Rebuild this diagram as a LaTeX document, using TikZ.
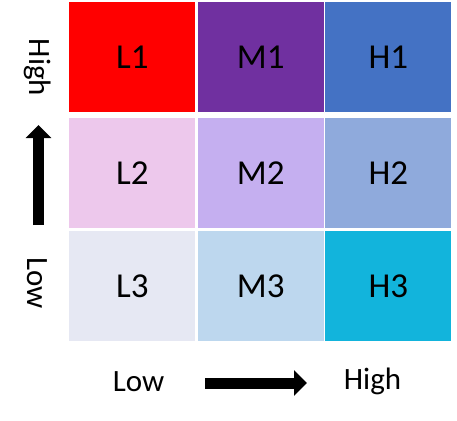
\documentclass[tikz,border=0pt]{standalone}
\usepackage{fontspec}
\setmainfont{Carlito}
\usetikzlibrary{arrows.meta,positioning}
\definecolor{LowHigh}{HTML}{FF0000}
\definecolor{MidHigh}{HTML}{7030A0}
\definecolor{HighHigh}{HTML}{4472C4}
\definecolor{LowMid}{HTML}{EDC8EC}
\definecolor{MidMid}{HTML}{C5AFF0}
\definecolor{HighMid}{HTML}{8FAADC}
\definecolor{LowLow}{HTML}{E6E8F3}
\definecolor{MidLow}{HTML}{BDD7EE}
\definecolor{HighLow}{HTML}{12B4DC}

\begin{document}
\begin{tikzpicture}[x=1pt,y=-1pt,
    cell/.style={minimum width=126pt,minimum height=110pt,inner sep=0pt,
      text=black,font=\fontsize{35}{42}\selectfont},
    axislabel/.style={font=\fontsize{31}{37}\selectfont,anchor=base},
    bigarrow/.style={line width=11pt,-{Triangle[width=25pt,length=13pt]}}]
  \useasboundingbox (0,0) rectangle (457,420);
  % top row
  \node[cell,fill=LowHigh] (l1) at (132.3,57) {L1};
  \node[cell,fill=MidHigh] (m1) at (260.7,57) {M1};
  \node[cell,fill=HighHigh] (h1) at (388.3,57) {H1};
  % middle row
  \node[cell,fill=LowMid] (l2) at (132.3,173) {L2};
  \node[cell,fill=MidMid] (m2) at (260.7,173) {M2};
  \node[cell,fill=HighMid] (h2) at (388.3,173) {H2};
  % bottom row
  \node[cell,fill=LowLow] (l3) at (132.3,286) {L3};
  \node[cell,fill=MidLow] (m3) at (260.7,286) {M3};
  \node[cell,fill=HighLow] (h3) at (388.3,286) {H3};
  % axes
  \node[axislabel,rotate=-90] (ytop) at (29,67.5) {High};
  \node[axislabel,rotate=-90] (ybot) at (27,283.3) {Low};
  \node[axislabel] (xleft) at (138.5,391.7) {Low};
  \node[axislabel] (xright) at (372.5,389.3) {High};
  \coordinate (yfrom) at (38.5,225);
  \coordinate (yto) at (38.5,125);
  \coordinate (xfrom) at (205,383);
  \coordinate (xto) at (307,383);
  \draw[bigarrow] (yfrom) -- (yto);
  \draw[bigarrow] (xfrom) -- (xto);
\end{tikzpicture}
\end{document}
